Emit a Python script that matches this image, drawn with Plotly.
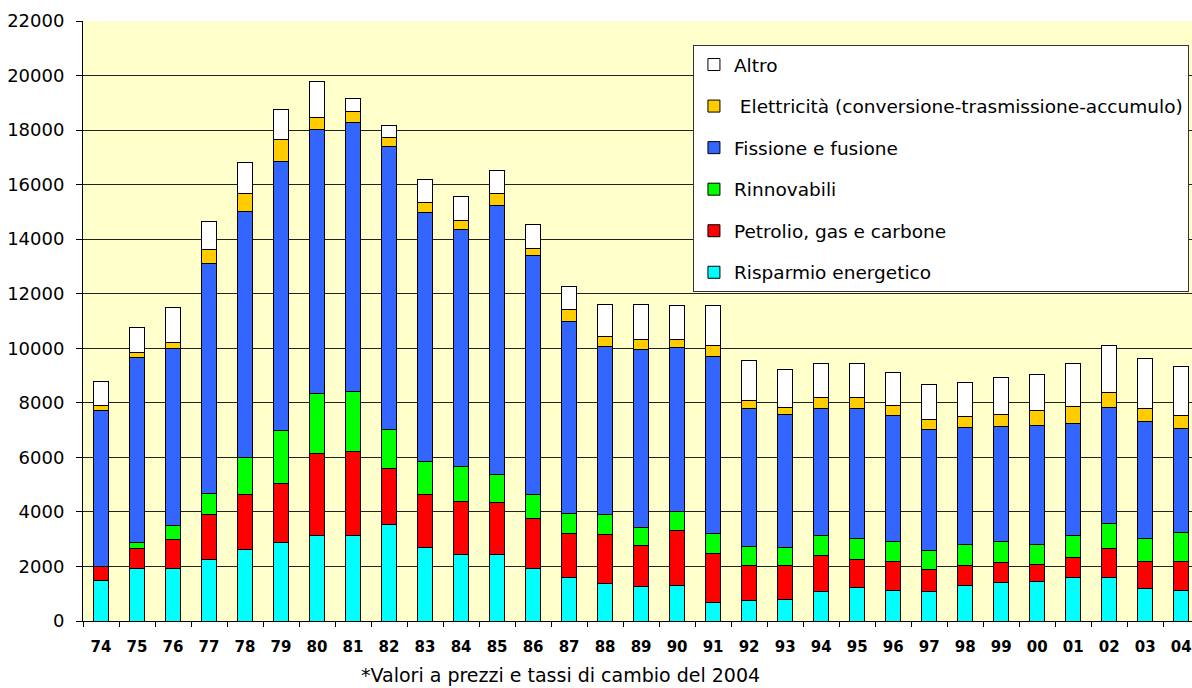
import plotly.graph_objects as go

# Years (two-digit labels as on the chart)
anni = ["74", "75", "76", "77", "78", "79", "80", "81", "82", "83", "84",
        "85", "86", "87", "88", "89", "90", "91", "92", "93", "94", "95",
        "96", "97", "98", "99", "00", "01", "02", "03", "04"]

# Stacked segments (bottom to top)
risparmio = [1500, 1940, 1940, 2270, 2625, 2880, 3150, 3140, 3540, 2710, 2455,
             2455, 1940, 1610, 1390, 1280, 1320, 685, 770, 805, 1100, 1220,
             1135, 1100, 1320, 1430, 1455, 1610, 1610, 1210, 1135]
petrolio = [500, 735, 1060, 1625, 2005, 2175, 2990, 3075, 2065, 1940, 1940,
            1905, 1835, 1590, 1770, 1505, 2015, 1805, 1255, 1220, 1320, 1025,
            1065, 805, 730, 705, 635, 735, 1065, 990, 1065]
rinnovabili = [0, 195, 520, 795, 1365, 1945, 2210, 2210, 1415, 1210, 1260,
               1025, 855, 755, 735, 660, 695, 710, 720, 685, 730, 795,
               705, 695, 770, 770, 730, 805, 890, 840, 1035]
fissione = [5720, 6800, 6490, 8420, 9025, 9850, 9690, 9860, 10385, 9110, 8715,
            9865, 8775, 7045, 6180, 6505, 5995, 6495, 5045, 4870, 4640, 4750,
            4615, 4435, 4285, 4240, 4360, 4105, 4275, 4285, 3835]
elettricita = [180, 180, 210, 530, 670, 820, 440, 380, 315, 370, 330,
               415, 270, 415, 365, 380, 280, 405, 295, 260, 390, 390,
               370, 365, 405, 435, 550, 620, 525, 465, 475]
altro = [890, 930, 1270, 1000, 1130, 1070, 1320, 500, 465, 865, 880,
         870, 880, 865, 1160, 1290, 1255, 1460, 1450, 1390, 1270, 1245,
         1205, 1255, 1245, 1360, 1295, 1575, 1745, 1845, 1795]

serie = [
    ("Risparmio energetico", risparmio, "#00FFFF"),
    ("Petrolio, gas e carbone", petrolio, "#FF0000"),
    ("Rinnovabili", rinnovabili, "#00FF00"),
    ("Fissione e fusione", fissione, "#3366FF"),
    (" Elettricità (conversione-trasmissione-accumulo)", elettricita, "#FFCC00"),
    ("Altro", altro, "#FFFFFF"),
]

FONT = "Verdana, DejaVu Sans, sans-serif"

fig = go.Figure()
for i, (nome, valori, colore) in enumerate(serie):
    fig.add_trace(go.Bar(
        x=anni,
        y=valori,
        name=nome,
        legendgroup=nome,
        legendrank=len(serie) - i,  # legend lists top segment first
        marker=dict(color=colore, line=dict(color="#000000", width=1)),
    ))

fig.update_layout(
    width=1192,
    height=688,
    barmode="stack",
    bargap=0.58,
    paper_bgcolor="#FFFFFF",
    plot_bgcolor="#FFFFCC",
    font=dict(family=FONT, color="#000000"),
    margin=dict(l=83, r=0, t=21, b=67),
    showlegend=True,
    legend=dict(
        traceorder="grouped",
        x=0.55, xanchor="left",
        y=0.960, yanchor="top",
        bgcolor="#FFFFFF",
        bordercolor="#333333",
        borderwidth=1,
        font=dict(family=FONT, size=18.5, color="#000000"),
        tracegroupgap=14.5,
    ),
    annotations=[dict(
        text="*Valori a prezzi e tassi di cambio del 2004",
        xref="paper", yref="paper",
        x=0.431, y=-0.09,
        xanchor="center", yanchor="middle",
        showarrow=False,
        font=dict(family=FONT, size=19, color="#000000"),
    )],
)

fig.update_xaxes(
    type="category",
    range=[-0.5, 30.3],
    showline=True, linecolor="#000000", linewidth=1,
    ticks="outside", tickson="boundaries", ticklen=5, tickcolor="#000000",
    tickfont=dict(family=FONT, size=15, color="#000000", weight="bold"),
    ticklabelstandoff=12,
    showgrid=False,
)
fig.update_yaxes(
    range=[0, 22000],
    dtick=2000,
    tickformat="d",
    showline=True, linecolor="#000000", linewidth=1,
    ticks="outside", ticklen=6, tickcolor="#000000",
    tickfont=dict(family=FONT, size=18, color="#000000"),
    ticklabelstandoff=8,
    showgrid=True, gridcolor="#222222", gridwidth=1,
    zeroline=False,
)

# drop the default page margin so the figure sits at the window's corner
fig.write_html("out.html", config={"displayModeBar": False},
               post_script="document.body.style.margin='0';")
